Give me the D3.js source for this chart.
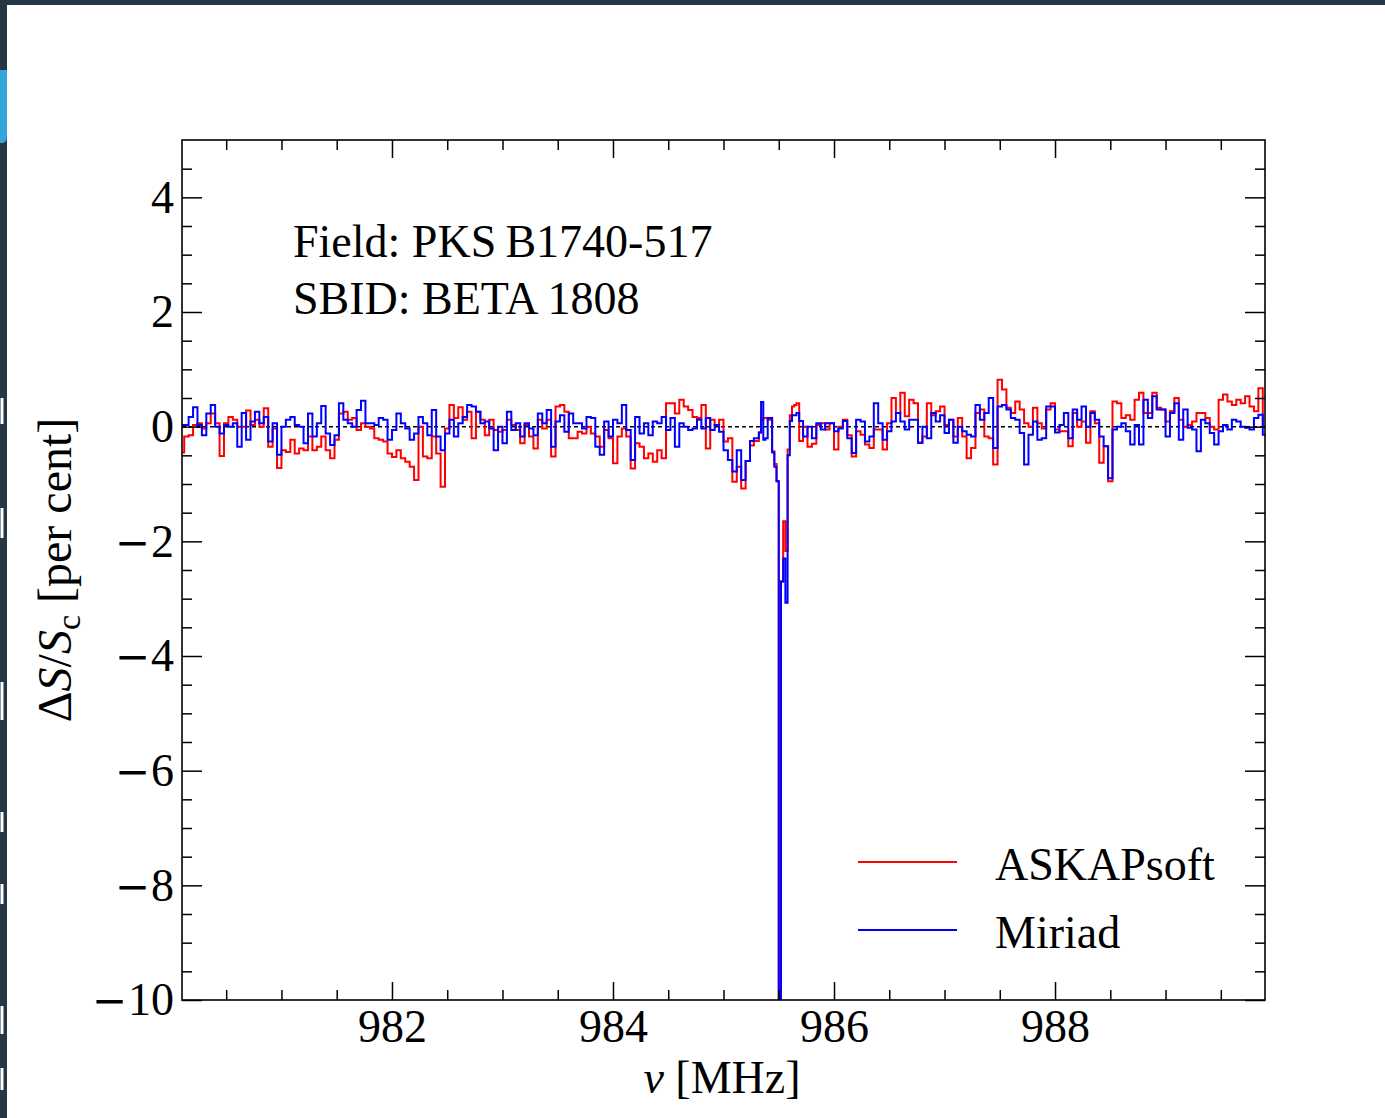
<!DOCTYPE html>
<html>
<head>
<meta charset="utf-8">
<script src="https://cdn.jsdelivr.net/npm/d3@7"></script>
<style>
  html, body { margin: 0; padding: 0; background: #fff; }
  svg { display: block; }
  svg text { font-family: "Liberation Serif", "Times New Roman", serif; fill: #000; }
</style>
</head>
<body>
<svg id="chart" width="1385" height="1118"></svg>
<script>
// Coarse spectrum: 246 channels, 40 kHz apart, starting at 980.10 MHz
const channelStart = 980.10;
const channelWidth = 0.04;

// Fractional flux change, ASKAPsoft pipeline (per cent)
const askapsoft = [-0.45,-0.17,-0.15,0.03,0.06,-0.03,0.06,0.23,0.06,-0.51,
0.06,0.17,0.12,0,0,0.28,0.03,0.12,0,0.32,
-0.35,-0.03,-0.72,-0.41,-0.44,-0.23,-0.47,-0.38,-0.41,-0.17,
-0.41,-0.35,-0.17,-0.41,-0.55,-0.23,0.23,0.26,0.12,0.15,
-0.06,0.06,0,-0.03,-0.2,-0.23,-0.26,-0.47,-0.53,-0.41,
-0.55,-0.61,-0.7,-0.93,0,-0.52,-0.55,-0.17,-0.47,-1.05,
-0.03,0.38,0.15,0.34,0.12,0.26,-0.2,0.26,0.12,-0.15,
0.12,-0.06,-0.09,-0.06,0.12,0.03,-0.06,-0.29,0.03,-0.17,
-0.38,0.12,-0.03,0.12,-0.52,0.35,0.38,0.26,-0.2,-0.2,
-0.09,-0.12,0,-0.12,-0.17,-0.35,-0.06,-0.2,-0.64,-0.17,
-0.03,-0.17,-0.73,-0.29,-0.35,-0.55,-0.47,-0.61,-0.41,-0.55,
0.41,0.41,0.23,0.47,0.35,0.29,0.17,0.15,0.38,-0.38,
0.12,0.03,0.12,-0.26,-0.2,-0.96,-0.7,-1.08,-0.6,-0.33,
-0.25,-0.1,0.15,0.15,-0.65,-10.5,-2.2,-2.15,0.35,0.38,
-0.25,0,-0.35,-0.3,0.03,0.06,-0.05,0.06,-0.4,0,
0.12,-0.15,-0.52,-0.08,-0.14,-0.31,-0.37,-0.05,-0.05,-0.4,
0.06,0.5,0.24,0.59,0.18,0.47,0.41,-0.28,-0.17,0.41,
0.2,0.27,0.35,0.03,0.12,-0.17,0.15,-0.17,-0.55,-0.37,
0.24,0.3,-0.17,-0.2,-0.66,0.82,0.65,0.33,0.24,0.44,
0.3,0.06,0,0.33,0.06,-0.03,0.3,0.41,-0.05,-0.08,
-0.08,-0.34,0.24,0,0.09,-0.28,0.27,0.06,-0.63,-0.34,
-0.95,0.44,0.41,0.15,0.2,0.12,0.47,0.59,0.24,0.24,
0.59,0.33,0.3,0.09,0.27,0.5,0.12,0,0.03,0.09,
0.24,0.24,0.15,0,-0.05,0.47,0.56,0.44,0.38,0.47,
0.41,0.53,0.35,0.27,0.67,0];

// Fractional flux change, Miriad reduction (per cent)
const miriad = [0.03,0.03,0.17,0.34,0.03,-0.15,0.23,0.38,0,-0.12,
0.03,0,0.06,-0.35,0.24,-0.23,0.09,0.26,0.06,0.17,
-0.26,0.06,-0.49,0,0.12,0.17,0.03,0,-0.29,0.23,
-0.17,0.06,0.36,-0.12,-0.32,-0.15,0.41,0.12,0.06,0,
0.29,0.45,0.06,0.06,0.03,0.15,0.12,-0.23,-0.06,0.23,
0.06,-0.03,-0.23,-0.12,0.17,0.06,-0.15,0.29,-0.17,-0.41,
-0.12,0.12,-0.17,0.06,0.17,0.38,0.35,0.26,0.06,0.09,
-0.03,-0.41,0,-0.29,0.26,-0.06,0.06,-0.17,0.06,-0.03,
-0.15,0.23,0.06,0.29,-0.35,0.09,0.2,-0.09,0.23,0.06,
0.06,-0.03,0.17,0.15,-0.35,-0.49,0.09,-0.17,0.12,0.06,
0.38,-0.06,-0.58,0.17,-0.12,0.06,-0.15,0.09,0.06,0.17,
-0.06,0.15,-0.35,0.06,0,-0.06,-0.03,0.12,-0.03,0.15,
-0.06,0.03,-0.09,-0.41,-0.58,-0.78,-0.41,-0.93,-0.6,-0.25,
-0.2,-0.1,0.43,-0.05,-0.7,-10.5,-2.6,-3.05,0.2,0.2,
0.1,-0.17,0,-0.2,0.06,-0.05,0.06,0.06,-0.08,-0.03,
0.1,-0.2,-0.46,0.12,0.09,-0.26,-0.17,0.41,0.06,-0.23,
-0.08,0.09,0.24,0.09,-0.05,0.12,0.12,-0.28,0,-0.2,
0.24,0.09,0.2,-0.11,0.12,-0.28,0,-0.08,-0.14,-0.17,
0.38,0.12,0.24,0.5,-0.37,0.35,0.38,0.3,0.15,0.12,
-0.11,-0.66,-0.14,0.09,-0.23,-0.2,0.35,0.35,-0.1,0.03,
0.24,-0.2,0.3,0.12,0.35,0,0.24,0.12,-0.17,-0.34,
-0.9,-0.05,0,0.06,-0.08,-0.31,0.03,-0.31,0.47,0.15,
0.53,0.3,0.3,-0.17,0.24,0.41,-0.23,0.3,-0.02,-0.05,
-0.43,0.12,0.06,-0.11,-0.31,-0.08,0.03,-0.05,0.12,0.09,
0,-0.02,-0.05,0.15,0.21,-0.14];

// Absorption-line core at full 20 kHz resolution (replaces coarse channels 130-139)
const coreFirstChannel = 130;
const coreLastChannel = 139;
const coreStart = 985.29;
const coreWidth = 0.02;
const askapsoftCore = [-0.25,-0.25,-0.1,0.12,0.15,0.15,0.12,0.12,-0.43,-0.65,
-0.95,-10.5,-2.7,-1.65,-2.17,-0.4,0.2,0.35,0.38,0.41];
const miriadCore = [-0.2,-0.2,-0.1,0.43,-0.23,-0.2,0.15,0.15,-0.45,-0.7,
-0.95,-10.5,-2.7,-2.3,-3.07,-0.5,0.1,0.2,0.2,0.24];

// Axis ticks
const xMajorTicks = [982, 984, 986, 988];
const yMajorTicks = [4, 2, 0, -2, -4, -6, -8, -10];
const xLimits = [980.1, 989.9];
const yLimits = [-10, 5];

const seriesNames = ["ASKAPsoft", "Miriad"];
const seriesColors = ["#ff0000", "#0000ff"];
const annotationLines = ["Field: PKS\u2009B1740-517", "SBID: BETA 1808"];

// (frequency, value) table for one spectrum, splicing in the line core
function spectrum(coarse, core) {
  const pts = [];
  coarse.forEach((v, i) => {
    if (i === coreFirstChannel) {
      core.forEach((c, j) => pts.push([coreStart + j * coreWidth, c]));
    }
    if (i < coreFirstChannel || i > coreLastChannel) {
      pts.push([channelStart + i * channelWidth, v]);
    }
  });
  return pts;
}
const spectra = [spectrum(askapsoft, askapsoftCore), spectrum(miriad, miriadCore)];

const svg = d3.select("#chart");
const W = 1385, H = 1118;
const plot = { left: 182, top: 140, right: 1265, bottom: 1000 };

svg.append("rect").attr("width", W).attr("height", H).attr("fill", "#fff");

// window chrome around the figure
svg.append("rect").attr("x", 0).attr("y", 0).attr("width", W).attr("height", 5).attr("fill", "#253746");
svg.append("rect").attr("x", 0).attr("y", 0).attr("width", 7).attr("height", H).attr("fill", "#253746");
svg.append("path").attr("d", "M0,70 L7,70 L7,136 Q7,143 2,143 L0,143 Z").attr("fill", "#34a6dc");
const chromeMarks = [[398, 424], [508, 538], [682, 720], [812, 832], [884, 904], [1006, 1034], [1068, 1090]];
svg.append("g").selectAll("line").data(chromeMarks).join("line")
  .attr("x1", 2).attr("x2", 2).attr("y1", d => d[0]).attr("y2", d => d[1])
  .attr("stroke", "#fff").attr("stroke-width", 3);

const x = d3.scaleLinear().domain(xLimits).range([plot.left, plot.right]);
const y = d3.scaleLinear().domain(yLimits).range([plot.bottom, plot.top]);

svg.append("clipPath").attr("id", "plotClip").append("rect")
  .attr("x", plot.left).attr("y", plot.top)
  .attr("width", plot.right - plot.left).attr("height", plot.bottom - plot.top);

// zero reference line
svg.append("line")
  .attr("x1", plot.left).attr("x2", plot.right)
  .attr("y1", y(0)).attr("y2", y(0))
  .attr("stroke", "#000").attr("stroke-width", 1.5).attr("stroke-dasharray", "4,3");

// spectra as step lines
const line = d3.line()
  .x(d => x(d[0]))
  .y(d => y(d[1]))
  .curve(d3.curveStep);

const lines = svg.append("g").attr("clip-path", "url(#plotClip)");
spectra.forEach((s, k) => {
  lines.append("path").datum(s)
    .attr("d", line)
    .attr("fill", "none")
    .attr("stroke", seriesColors[k])
    .attr("stroke-width", 2)
    .attr("stroke-linejoin", "miter");
});

// axes: inward ticks on all four sides
const fontSize = 46;
const xMinor = d3.range(980.5, 990, 0.5).filter(v => !xMajorTicks.includes(v));
const yMinor = d3.range(-9.5, 5, 0.5).filter(v => !yMajorTicks.includes(v));
const fmt = d3.format("d");

function styleAxis(g) {
  g.select(".domain").remove();
  g.selectAll(".tick line").attr("stroke", "#000").attr("stroke-width", 1.5);
  g.selectAll(".tick text")
    .attr("font-family", "Liberation Serif, Times New Roman, serif")
    .attr("font-size", fontSize).attr("fill", "#000");
}

// long mathematical minus for negative tick labels
function longMinus(g) {
  g.selectAll(".tick text").each(function () {
    const t = d3.select(this);
    const s = t.text();
    if (s.startsWith("\u2212")) {
      t.text(null);
      t.append("tspan").attr("font-family", "DejaVu Serif").attr("font-size", 42).text("\u2212");
      t.append("tspan").attr("dx", 1).text(s.slice(1));
    }
  });
}

svg.append("g").attr("transform", `translate(0,${plot.bottom})`)
  .call(d3.axisBottom(x).tickValues(xMajorTicks).tickFormat(fmt).tickSize(-18).tickSizeOuter(0).tickPadding(9))
  .call(styleAxis);
svg.append("g").attr("transform", `translate(0,${plot.bottom})`)
  .call(d3.axisBottom(x).tickValues(xMinor).tickFormat("").tickSize(-10).tickSizeOuter(0))
  .call(styleAxis);
svg.append("g").attr("transform", `translate(0,${plot.top})`)
  .call(d3.axisTop(x).tickValues(xMajorTicks).tickFormat("").tickSize(-18).tickSizeOuter(0))
  .call(styleAxis);
svg.append("g").attr("transform", `translate(0,${plot.top})`)
  .call(d3.axisTop(x).tickValues(xMinor).tickFormat("").tickSize(-10).tickSizeOuter(0))
  .call(styleAxis);

svg.append("g").attr("transform", `translate(${plot.left},0)`)
  .call(d3.axisLeft(y).tickValues(yMajorTicks).tickFormat(fmt).tickSize(-20).tickSizeOuter(0).tickPadding(8))
  .call(styleAxis)
  .call(longMinus);
svg.append("g").attr("transform", `translate(${plot.left},0)`)
  .call(d3.axisLeft(y).tickValues(yMinor).tickFormat("").tickSize(-10).tickSizeOuter(0))
  .call(styleAxis);
svg.append("g").attr("transform", `translate(${plot.right},0)`)
  .call(d3.axisRight(y).tickValues(yMajorTicks).tickFormat("").tickSize(-20).tickSizeOuter(0))
  .call(styleAxis);
svg.append("g").attr("transform", `translate(${plot.right},0)`)
  .call(d3.axisRight(y).tickValues(yMinor).tickFormat("").tickSize(-10).tickSizeOuter(0))
  .call(styleAxis);

// plot frame
svg.append("rect")
  .attr("x", plot.left).attr("y", plot.top)
  .attr("width", plot.right - plot.left).attr("height", plot.bottom - plot.top)
  .attr("fill", "none").attr("stroke", "#000").attr("stroke-width", 1.6);

// axis titles
const xTitle = svg.append("text")
  .attr("x", 722).attr("y", 1093)
  .attr("text-anchor", "middle").attr("font-size", fontSize);
xTitle.append("tspan").attr("font-style", "italic").text("ν");
xTitle.append("tspan").text(" [MHz]");

const yTitle = svg.append("text")
  .attr("transform", "translate(71,570) rotate(-90)")
  .attr("text-anchor", "middle").attr("font-size", 48);
yTitle.append("tspan").text("Δ");
yTitle.append("tspan").attr("font-style", "italic").text("S");
yTitle.append("tspan").text("/");
yTitle.append("tspan").attr("font-style", "italic").text("S");
yTitle.append("tspan").attr("font-size", 34).attr("dy", 9).text("c");
yTitle.append("tspan").attr("dy", -9).text(" [per cent]");

// field annotation
svg.append("g").selectAll("text").data(annotationLines).join("text")
  .attr("x", 293).attr("y", (d, i) => 257 + i * 57)
  .attr("font-size", fontSize)
  .text(d => d);

// legend
const legend = svg.append("g");
seriesNames.forEach((name, k) => {
  const ly = 862 + k * 68;
  legend.append("line")
    .attr("x1", 858).attr("x2", 957).attr("y1", ly).attr("y2", ly)
    .attr("stroke", seriesColors[k]).attr("stroke-width", 2);
  legend.append("text")
    .attr("x", 995).attr("y", ly + 18)
    .attr("font-size", fontSize)
    .text(name);
});
</script>
</body>
</html>
